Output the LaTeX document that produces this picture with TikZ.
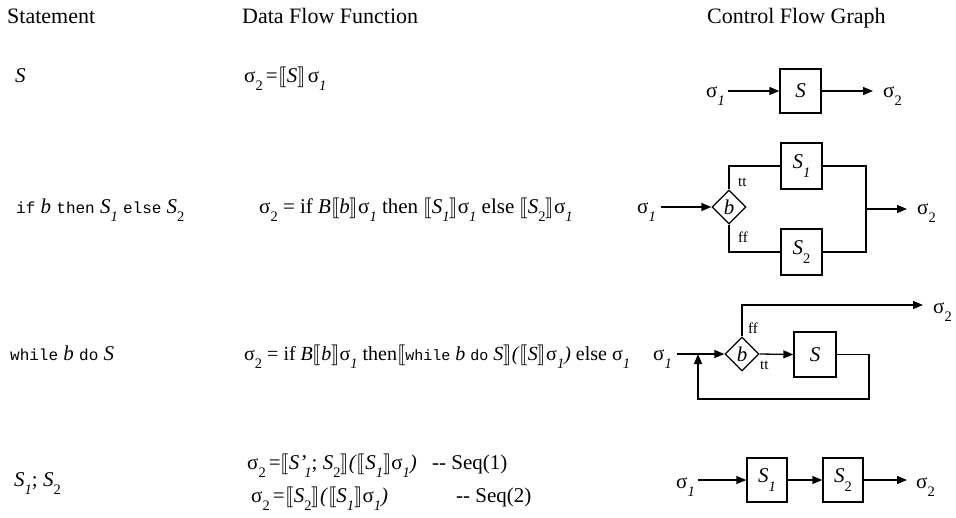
\documentclass[tikz,border=0pt]{standalone}
\usepackage{fontspec}
\setmainfont{Liberation Serif}
\setmonofont{Liberation Mono}
\usepackage{stmaryrd}
\usetikzlibrary{arrows.meta,shapes.geometric}
\newcommand\subI{\raisebox{-0.42em}{\fontsize{14.5}{14.5}\selectfont\itshape 1}}
\newcommand\subII{\raisebox{-0.42em}{\fontsize{14.5}{14.5}\selectfont 2}}
\newcommand\lbr{\ensuremath{\llbracket}}
\newcommand\rbr{\ensuremath{\rrbracket}}
\newcommand\mono[1]{{\fontsize{16}{16}\selectfont\ttfamily #1}}
\newcommand\monos[1]{{\fontsize{15}{15}\selectfont\ttfamily #1}}
\newcommand\sga{σ\subI}
\newcommand\sgb{σ\subII}
\begin{document}
\begin{tikzpicture}[x=1pt,y=-1pt,
  every node/.style={inner sep=0pt, font=\fontsize{21}{25}\selectfont},
  txt/.style={anchor=base west},
  head/.style={anchor=base west, font=\fontsize{22}{26}\selectfont},
  box/.style={draw, line width=1.3pt, minimum width=41pt, minimum height=44pt},
  dia/.style={draw, diamond, line width=1.3pt, minimum width=34pt, minimum height=34pt},
  ln/.style={line width=1.3pt},
  arr/.style={line width=1.3pt, -{Triangle[length=10pt,width=8pt]}},
  lbl/.style={anchor=base west, font=\fontsize{15}{15}\selectfont}]
\useasboundingbox (0,0) rectangle (956,517);
% headers
\node[head] (h1) at (7,23) {Statement};
\node[head] (h2) at (242,23) {Data Flow Function};
\node[head] (h3) at (707,23) {Control Flow Graph};
% row 1 text
\node[txt] (st1) at (15,82) {\itshape S};
\node[txt] (eq1) at (244,82) {\sgb\kern3pt=\kern1pt\lbr\textit{S}\rbr\kern2pt\sga};
% row 2 text
\node[txt] (st2) at (16,213) {\mono{if} \textit{b} \mono{then} \textit{S}\subI\ \mono{else} \textit{S}\subII};
\node[txt] (eq2) at (259,213) {\sgb\ = if \textit{B}\lbr\textit{b}\rbr\sga\ then \lbr\textit{S}\subI\rbr\sga\ else \lbr\textit{S}\subII\rbr\sga};
% row 3 text
\node[txt] (st3) at (10,360) {\mono{while} \textit{b} \mono{do} \textit{S}};
\node[txt, font=\fontsize{20}{24}\selectfont] (eq3) at (244,360) {\sgb\ = if \textit{B}\lbr\textit{b}\rbr\sga\ then\lbr\monos{while} \textit{b} \monos{do} \textit{S}\rbr\textit{(}\lbr\textit{S}\rbr\sga\textit{)} else \sga};
% row 4 text
\node[txt] (st4) at (14,486) {\textit{S}\subI; \textit{S}\subII};
\node[txt] (eq4a) at (247,469) {\sgb\kern3pt=\lbr\textit{S’}\kern-2pt\subI; \textit{S}\subII\rbr\textit{(}\lbr\textit{S}\subI\rbr\sga\textit{)}};
\node[txt] (sq1) at (432,469) {-{}- Seq(1)};
\node[txt] (eq4b) at (251,502) {\sgb\kern3pt=\kern1pt\lbr\textit{S}\subII\rbr\textit{(}\lbr\textit{S}\subI\rbr\sga\textit{)}};
\node[txt] (sq2) at (456,502) {-{}- Seq(2)};

% ---- CFG row 1
\node[box] (b1) at (800.5,91) {\itshape S};
\node[txt] (s1a) at (706,97) {\sga};
\node[txt] (s1b) at (883,97) {\sgb};
\draw[arr] ([xshift=3pt]s1a.east |- b1.west) -- (b1.west);
\draw[arr] (b1.east) -- ([xshift=-10pt]s1b.west |- b1.east);

% ---- CFG row 2
\node[dia] (d2) at (729,207) {\itshape b};
\node[box, minimum height=46pt] (b21) at (801.5,166) {\textit{S}\subI};
\node[box, minimum height=46pt] (b22) at (801.5,252) {\textit{S}\subII};
\node[txt] (s2a) at (637,213) {\sga};
\node[txt] (s2b) at (917,214) {\sgb};
\coordinate (j2) at (866,209);
\draw[arr] ([xshift=5pt]s2a.east |- d2.west) -- (d2.west);
\draw[ln] (d2.north) |- (b21.west);
\draw[ln] (d2.south) |- (b22.west);
\draw[ln] (b21.east) -| (j2) |- (b22.east);
\draw[arr] (j2) -- ([xshift=-10pt]s2b.west |- j2);
\node[lbl] (tt2) at (738,186) {tt};
\node[lbl] (ff2) at (738,242) {ff};

% ---- CFG row 3
\node[dia] (d3) at (742,354) {\itshape b};
\node[box, minimum width=42pt, minimum height=45pt] (b3) at (815,354.5) {\itshape S};
\node[txt] (s3a) at (653,360) {\sga};
\node[txt] (s3b) at (933,313) {\sgb};
\coordinate (j3) at (698,354);
\coordinate (c3) at (869,399);
\coordinate (e3) at (923,305);
\draw[arr] ([xshift=5pt]s3a.east |- d3.west) -- (d3.west);
\draw[arr] (d3.east) -- (b3.west);
\draw[arr] (b3.east) -| (c3) -| (j3);
\draw[arr] (d3.north) |- (e3);
\node[lbl] (ff3) at (748,333) {ff};
\node[lbl] (tt3) at (760,369) {tt};

% ---- CFG row 4
\node[box, minimum width=40pt] (b41) at (767,480) {\textit{S}\subI};
\node[box, minimum width=40pt] (b42) at (843,480) {\textit{S}\subII};
\node[txt] (s4a) at (676,488) {\sga};
\node[txt] (s4b) at (916,488) {\sgb};
\draw[arr] ([xshift=3pt]s4a.east |- b41.west) -- (b41.west);
\draw[arr] (b41.east) -- (b42.west);
\draw[arr] (b42.east) -- ([xshift=-9pt]s4b.west |- b42.east);
\end{tikzpicture}
\end{document}
